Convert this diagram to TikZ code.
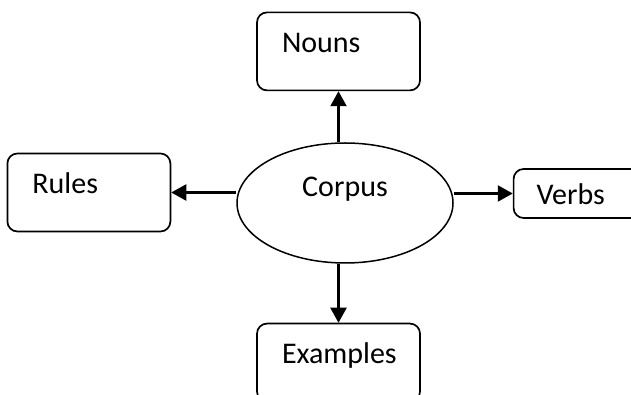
\documentclass[tikz,border=0pt]{standalone}
\usepackage{fontspec}
\setmainfont{Carlito}
\usetikzlibrary{arrows.meta,positioning,shapes.geometric}

\begin{document}
\begin{tikzpicture}[x=1pt,y=1pt,>={Triangle[length=15pt,width=16pt]},
        font=\fontsize{30}{36}\selectfont,
        box/.style={draw,line width=1.7pt,rounded corners=10pt,inner ysep=0pt,
          inner xsep=25pt,text width=113pt,align=left,text height=40pt,text depth=38pt},
        link/.style={->,line width=2.2pt}]

  \useasboundingbox (0,0) rectangle (631,395);

  \node[draw,ellipse,line width=1.5pt,minimum width=216pt,minimum height=120pt,
        inner sep=0pt,text height=18pt,text depth=30pt] (corpus) at (345,192) {Corpus};
  \node[box] (nouns) [above=51pt of corpus,xshift=-6.5pt] {Nouns};
  \node[box] (rules) [left=65pt of corpus,yshift=10.5pt] {Rules};
  \node[box,inner xsep=23pt,text width=110pt,text height=36pt,text depth=13pt]
        (verbs) [right=59pt of corpus,yshift=9.5pt] {Verbs};
  \node[box] (examples) [below=59pt of corpus,xshift=-6.5pt] {Examples};

  \draw[link] (corpus.north -| nouns.south) -- (nouns.south);
  \draw[link] (corpus.west |- rules.east) -- (rules.east);
  \draw[link] (corpus.east |- verbs.west) -- (verbs.west);
  \draw[link] (corpus.south -| examples.north) -- (examples.north);

\end{tikzpicture}
\end{document}
